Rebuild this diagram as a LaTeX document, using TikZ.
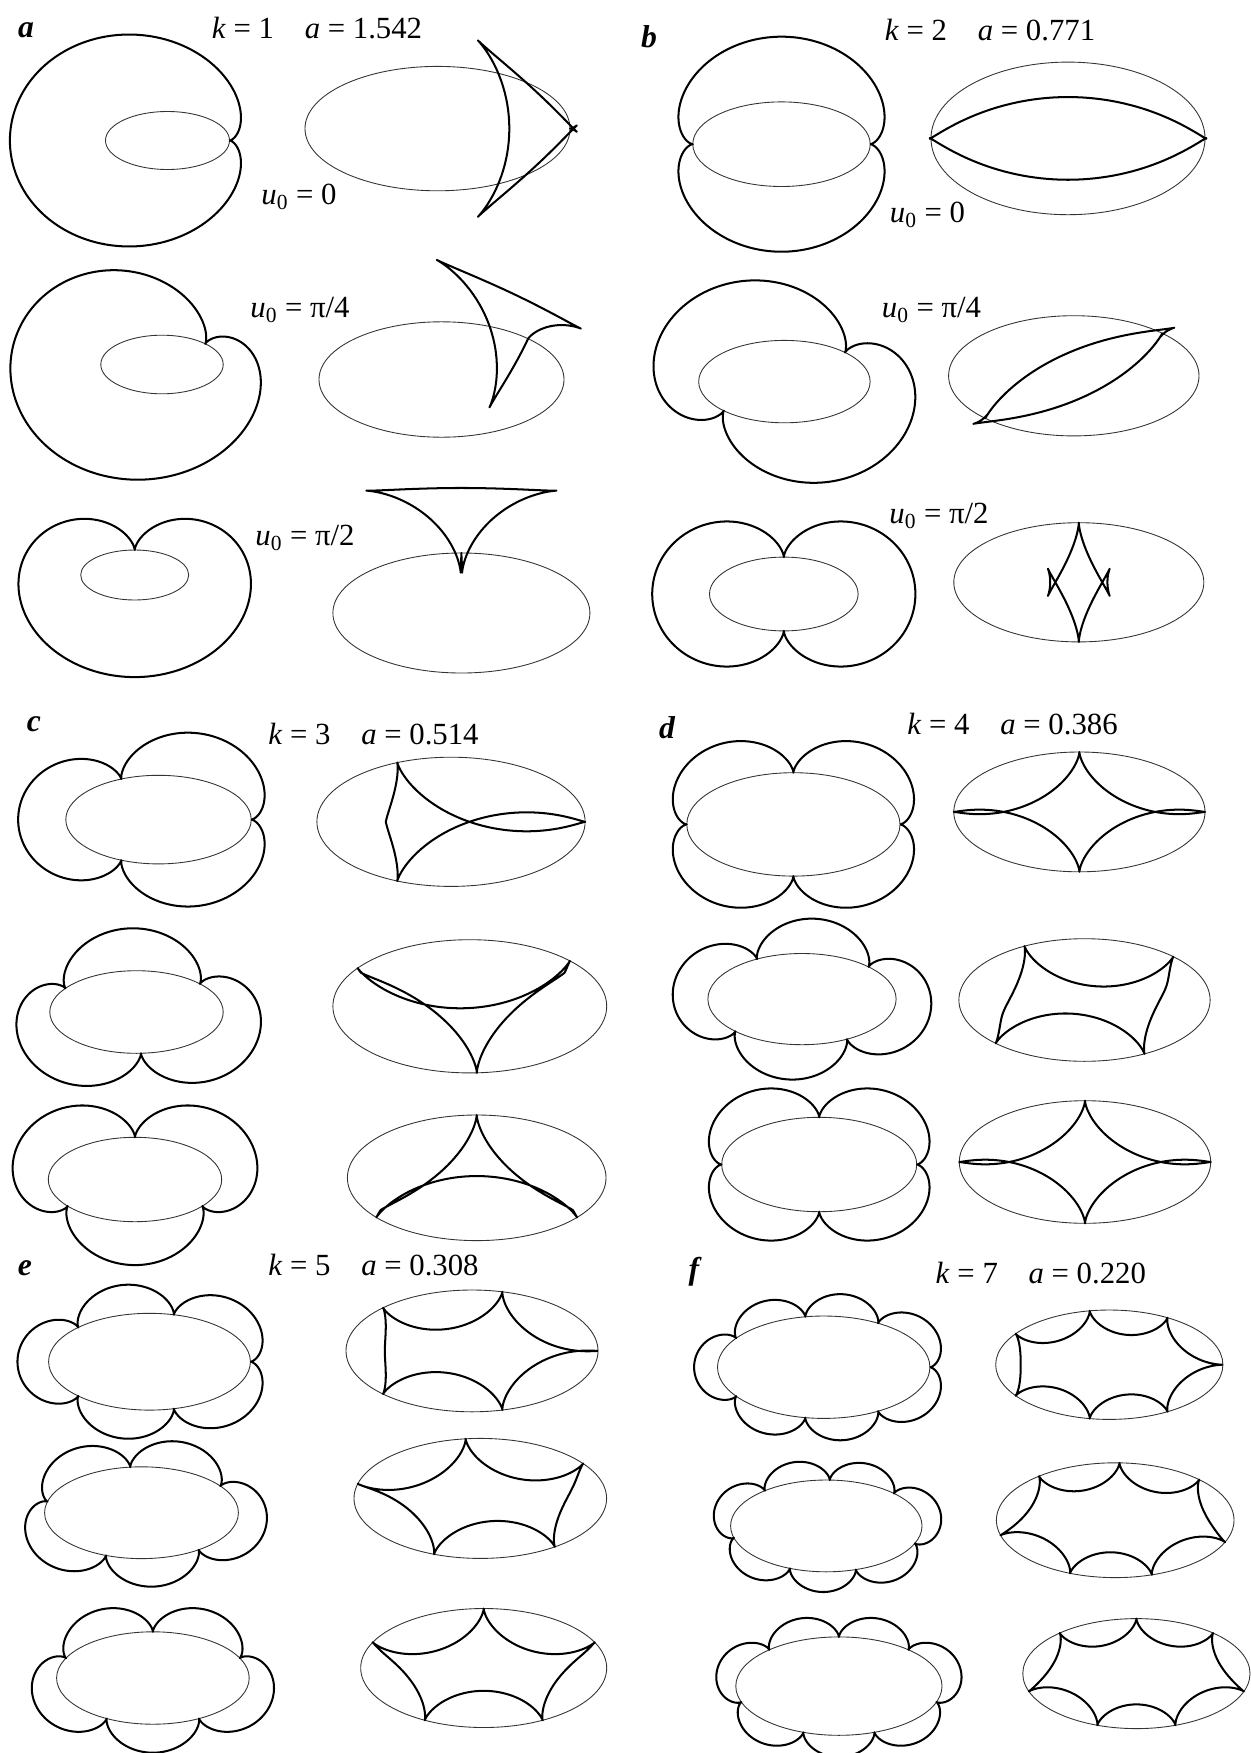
\documentclass[tikz,border=0pt]{standalone}
\usepackage{fontspec}
\setmainfont{Liberation Serif}
\usetikzlibrary{positioning}

\tikzset{
  rim/.style={line width=0.5pt, black!80},
  trace/.style={line width=1.15pt, line join=round},
  tag/.style={font=\fontsize{18}{21}\selectfont\bfseries\itshape},
  ttl/.style={font=\fontsize{17.5}{21}\selectfont},
  ulab/.style={font=\fontsize{17.5}{21}\selectfont},
}

\makeatletter
\newcount\rl@i \newcount\rl@n
\newdimen\rl@th \newdimen\rl@om \newdimen\rl@x \newdimen\rl@y
\newdimen\rl@p \newdimen\rl@q \newdimen\rl@w

% table over the ellipse (2cos t, sin t), t = i/2 degrees:
% cos, sin, normal/speed, arc-length angle u(t)
\def\rl@tabstep{%
  \pgfmathsetmacro\rl@t{\the\rl@i/2}%
  \pgfmathsetmacro\rl@c{cos(\rl@t)}%
  \pgfmathsetmacro\rl@s{sin(\rl@t)}%
  \pgfmathsetmacro\rl@r{1/sqrt(4*\rl@s*\rl@s+\rl@c*\rl@c)}%
  \expandafter\xdef\csname rl@C\the\rl@i\endcsname{\rl@c}%
  \expandafter\xdef\csname rl@S\the\rl@i\endcsname{\rl@s}%
  \pgfmathsetmacro\rl@v{\rl@c*\rl@r}%
  \expandafter\xdef\csname rl@CR\the\rl@i\endcsname{\rl@v}%
  \pgfmathsetmacro\rl@v{\rl@s*\rl@r}%
  \expandafter\xdef\csname rl@SR\the\rl@i\endcsname{\rl@v}%
  \pgfmathsetmacro\rl@v{\rl@t-9.1583*sin(2*\rl@t)-0.3762*sin(4*\rl@t)-0.0416*sin(6*\rl@t)}%
  \expandafter\xdef\csname rl@U\the\rl@i\endcsname{\rl@v}%
  \advance\rl@i by 1
  \ifnum\rl@i<721 \expandafter\rl@tabstep\fi}
\rl@i=0 \rl@tabstep

% one point of the rolling-circle trace
\def\rl@drawstep{%
  \rl@th=\csname rl@U\the\rl@i\endcsname pt
  \advance\rl@th by -\rl@uz pt
  \multiply\rl@th by \rl@k
  \rl@n=\rl@th \divide\rl@n by 23592960 \multiply\rl@n by 23592960
  \advance\rl@th by -\rl@n sp
  \ifdim\rl@th<0pt \advance\rl@th by 360pt \fi
  \edef\rl@tn{\strip@pt\rl@th}%
  \pgfmathcos@{\rl@tn}\let\rl@co\pgfmathresult
  \pgfmathsin@{\rl@tn}\let\rl@si\pgfmathresult
  \rl@om=1pt \advance\rl@om by -\rl@co pt
  \edef\rl@omn{\strip@pt\rl@om}%
  \rl@p=\csname rl@CR\the\rl@i\endcsname pt
  \rl@q=\csname rl@SR\the\rl@i\endcsname pt
  \rl@x=\rl@omn\rl@p
  \rl@x=\rl@sg\rl@x
  \rl@w=\rl@si\rl@q
  \advance\rl@x by 2\rl@w
  \rl@x=\rl@ra\rl@x
  \rl@w=\csname rl@C\the\rl@i\endcsname pt
  \advance\rl@x by 2\rl@w
  \rl@y=\rl@omn\rl@q
  \rl@y=\rl@sg\rl@y
  \multiply\rl@y by 2
  \rl@w=\rl@si\rl@p
  \advance\rl@y by -\rl@w
  \rl@y=\rl@ra\rl@y
  \rl@w=\csname rl@S\the\rl@i\endcsname pt
  \advance\rl@y by \rl@w
  \ifnum\rl@i=0 \pgfpathmoveto{\pgfqpoint{\rl@x}{\rl@y}}%
  \else \pgfpathlineto{\pgfqpoint{\rl@x}{\rl@y}}\fi
  \advance\rl@i by 1
  \ifnum\rl@i<721 \expandafter\rl@drawstep\fi}

% #1,#2 centre; #3,#4 scale; #5 k; #6 u0; #7 side (1 out, -1 in)
\newcommand\rollfig[7]{%
  \begin{scope}[trace, shift={(#1,#2)}, xscale=#3*0.569055, yscale=#4*0.569055]
    \draw[rim] (0,0) ellipse [x radius=2pt, y radius=1pt];
    \pgfmathsetmacro\rl@uz{#6-9.1583*sin(2*#6)-0.3762*sin(4*#6)-0.0416*sin(6*#6)}%
    \pgfmathsetmacro\rl@ra{1.54197/#5}%
    \def\rl@k{#5}\def\rl@sg{#7}%
    \rl@i=0 \rl@drawstep
    \pgfusepath{stroke}%
  \end{scope}}
\makeatother

\begin{document}
\begin{tikzpicture}[x=0.2mm, y=-0.2mm]
  \useasboundingbox (0,0) rectangle (1250,1753);

  % panel a
  \node[tag] (taga) at (26,30) {a};
  \node[ttl] (ttla) at (317,28) {\textit{k} = 1\hspace{1em}\textit{a} = 1.542};
  \rollfig{167.5}{140.5}{31}{29}{1}{0}{1}
  \rollfig{437.5}{128.6}{66.25}{62.2}{1}{0}{-1}
  \rollfig{162}{364.5}{30.6}{29.3}{1}{45}{1}
  \rollfig{441.5}{379.5}{61.25}{57.7}{1}{45}{-1}
  \rollfig{134.7}{575}{27}{25}{1}{90}{1}
  \rollfig{461.4}{613}{64.25}{60}{1}{90}{-1}
  \node[ulab] (ua1) at (299,197) {\textit{u}\textsubscript{0} = 0};
  \node[ulab] (ua2) at (300,310) {\textit{u}\textsubscript{0} = π/4};
  \node[ulab] (ua3) at (305,538) {\textit{u}\textsubscript{0} = π/2};

  % panel b
  \node[tag] (tagb) at (649,37) {b};
  \node[ttl] (ttlb) at (990,30) {\textit{k} = 2\hspace{1em}\textit{a} = 0.771};
  \rollfig{781.5}{144.2}{44.35}{42.3}{2}{0}{1}
  \rollfig{1068}{138.4}{68.5}{76.3}{2}{0}{-1}
  \rollfig{784.4}{381.6}{42.85}{41.2}{2}{45}{1}
  \rollfig{1073.8}{375.8}{62.6}{60.1}{2}{45}{-1}
  \rollfig{783.8}{594}{37.15}{36.9}{2}{90}{1}
  \rollfig{1078.8}{582.3}{62.5}{59.6}{2}{90}{-1}
  \node[ulab] (ub1) at (927.5,214.7) {\textit{u}\textsubscript{0} = 0};
  \node[ulab] (ub2) at (931.5,310) {\textit{u}\textsubscript{0} = π/4};
  \node[ulab] (ub3) at (939,516) {\textit{u}\textsubscript{0} = π/2};

  % panel c
  \node[tag] (tagc) at (34,724.5) {c};
  \node[ttl] (ttlc) at (373.5,734) {\textit{k} = 3\hspace{1em}\textit{a} = 0.514};
  \rollfig{158.5}{819.6}{46.35}{44.3}{3}{0}{1}
  \rollfig{451}{821.8}{67.05}{64.6}{3}{0}{-1}
  \rollfig{136.5}{1012}{43.35}{41.3}{3}{43}{1}
  \rollfig{469.8}{1006.3}{68.45}{66.6}{3}{43}{-1}
  \rollfig{135}{1179.5}{43.35}{42.2}{3}{90}{1}
  \rollfig{476.7}{1177.8}{64.65}{62.8}{3}{90}{-1}

  % panel d
  \node[tag] (tagd) at (667,728) {d};
  \node[ttl] (ttld) at (1012.5,724.5) {\textit{k} = 4\hspace{1em}\textit{a} = 0.386};
  \rollfig{793.4}{824.4}{53.3}{51.7}{4}{0}{1}
  \rollfig{1079.4}{811.9}{62.8}{59.9}{4}{0}{-1}
  \rollfig{802}{999.1}{47.05}{45.6}{4}{45}{1}
  \rollfig{1084.5}{1000}{62.8}{61.3}{4}{45}{-1}
  \rollfig{819.2}{1164.5}{48.75}{47.2}{4}{90}{1}
  \rollfig{1085}{1162}{62.85}{61.3}{4}{90}{-1}

  % panel e
  \node[tag] (tage) at (25,1268) {e};
  \node[ttl] (ttle) at (373.5,1265) {\textit{k} = 5\hspace{1em}\textit{a} = 0.308};
  \rollfig{149.5}{1361.7}{50.45}{48.4}{5}{0}{1}
  \rollfig{472}{1350.9}{63}{60.9}{5}{0}{-1}
  \rollfig{141.5}{1512.7}{48.45}{45.9}{5}{35.5}{1}
  \rollfig{480.3}{1498.4}{63.15}{60}{5}{35.5}{-1}
  \rollfig{152.9}{1678}{48.15}{46.2}{5}{90}{1}
  \rollfig{483.7}{1668}{61.5}{59.5}{5}{90}{-1}

  % panel f
  \node[tag] (tagf) at (694,1272) {f};
  \node[ttl] (ttlf) at (1040.8,1272.7) {\textit{k} = 7\hspace{1em}\textit{a} = 0.220};
  \rollfig{823.7}{1367.2}{53.1}{51.2}{7}{0}{1}
  \rollfig{1109.3}{1364.7}{56.8}{54.7}{7}{0}{-1}
  \rollfig{826.3}{1525.9}{47.85}{45.9}{7}{45}{1}
  \rollfig{1115.2}{1520.2}{59.4}{57.4}{7}{45}{-1}
  \rollfig{838.9}{1686.1}{51.55}{49.2}{7}{90}{1}
  \rollfig{1136.4}{1673.6}{56.8}{55}{7}{90}{-1}
\end{tikzpicture}
\end{document}
